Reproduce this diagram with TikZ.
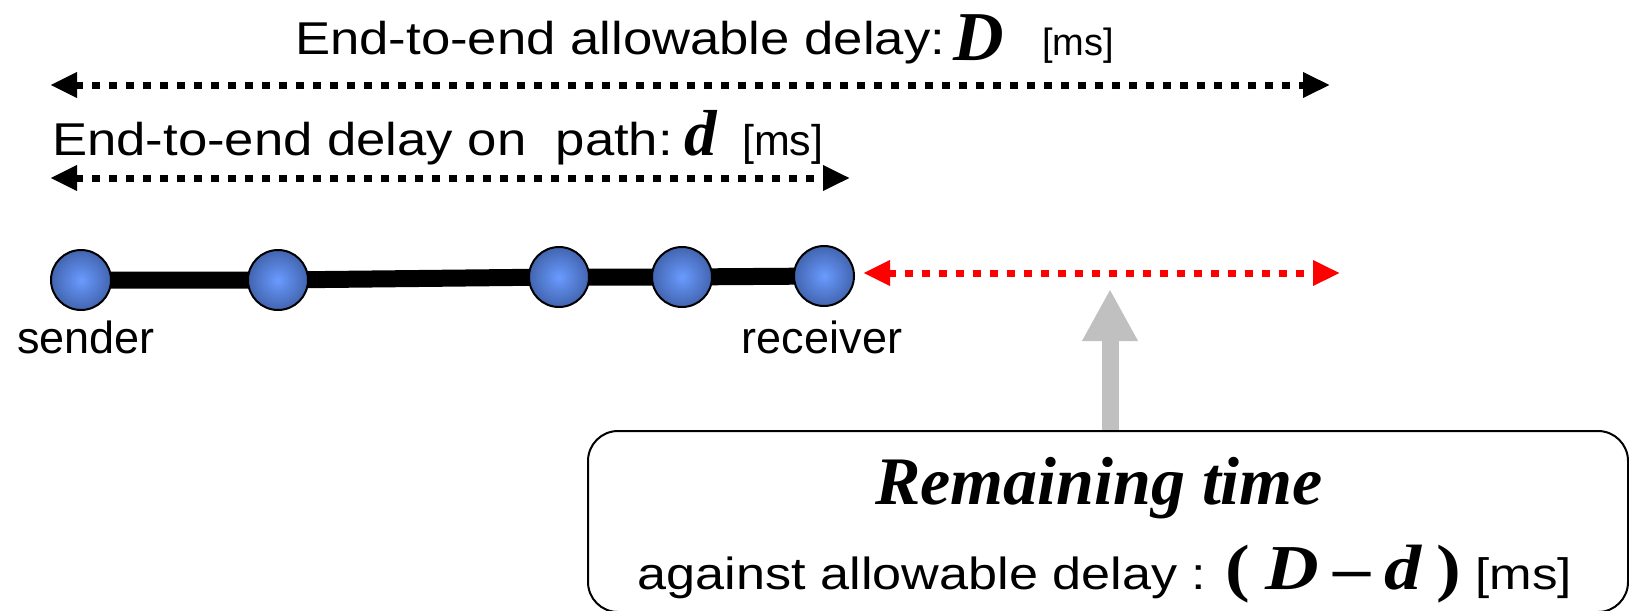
\documentclass[tikz,border=0pt]{standalone}
\usepackage{fontspec}
\setmainfont{Liberation Sans}
\newfontfamily\timesfont{Liberation Serif}
\usetikzlibrary{arrows.meta, backgrounds}

\definecolor{hopin}{HTML}{6A9BFF}
\definecolor{hopout}{HTML}{2A4480}
\definecolor{hintgray}{HTML}{C0C0C0}

% soft centred highlight on the path nodes
\pgfdeclareradialshading{hopshade}{\pgfpoint{0bp}{0bp}}{%
    color(0bp)=(hopin); color(40bp)=(hopout); color(50bp)=(hopout)}

% bold italic serif symbol at a given size
\newcommand{\tvar}[2]{{\fontsize{#1}{#1}\selectfont\timesfont\bfseries\itshape #2}}
\newcommand{\tsym}[2]{{\fontsize{#1}{#1}\selectfont\timesfont\bfseries #2}}
\newcommand{\unitms}[1]{{\fontsize{#1}{#1}\selectfont[ms]}}
\newcommand{\wide}[1]{\scalebox{1.145}[1]{#1}}

\begin{document}
\begin{tikzpicture}[
    x=1pt, y=-1pt,
    font=\fontsize{45}{54}\selectfont,
    txt/.style={inner sep=0pt, anchor=base},
    lbl/.style={inner sep=0pt, anchor=base west, font=\fontsize{46}{54}\selectfont},
    hop/.style={circle, draw=black, line width=2pt, minimum size=60pt, inner sep=0pt,
                shading=hopshade},
    link/.style={line width=17pt},
    span/.style={line width=7pt, dash pattern=on 8pt off 9pt,
                 {Triangle[length=27pt,width=24pt]}-{Triangle[length=27pt,width=24pt]}},
    slack/.style={span, red},
    hint/.style={hintgray, line width=17pt, -{Triangle[length=52pt,width=52pt]}},
    note/.style={draw, line width=2pt, rounded corners=30pt, anchor=north west,
                 minimum width=1040pt, minimum height=181pt},
]
    \useasboundingbox (0,0) rectangle (1629,610);

    % Row 1: allowable delay D
    \node[lbl] (Dlabel) at (295,55) {\wide{End-to-end allowable delay:}};
    \node[lbl] (Dsym) at (953,60) {\tvar{70}{D}};
    \node[lbl] (Dunit) at (1042,56) {\unitms{38}};
    \coordinate (Dl) at (50,85);
    \coordinate (Dr) at (1330,85);
    \draw[span] (Dl) -- (Dr);

    % Row 2: delay on path d
    \node[lbl] (dlabel) at (52,155) {\wide{End-to-end delay on\ \ path:}};
    \node[lbl] (dsym) at (684,155) {\tvar{65}{d}};
    \node[lbl] (dunit) at (742,155) {\unitms{43}};
    \coordinate (dl) at (50,178);
    \coordinate (dr) at (850,178);
    \draw[span] (dl) -- (dr);

    % Row 3: the path, sender to receiver
    \node[hop] (n1) at (81,280) {};
    \node[hop] (n2) at (278,280) {};
    \node[hop] (n3) at (559,277) {};
    \node[hop] (n4) at (682,277) {};
    \node[hop] (n5) at (824,276) {};
    \begin{scope}[on background layer]
        \draw[link] (n1.center) -- (n2.center) -- (n3.center) -- (n4.center) -- (n5.center);
    \end{scope}
    \node[txt] (snd) at (86,353) {sender};
    \node[txt] (rcv) at (822,353) {receiver};

    % slack up to the allowable delay
    \coordinate (sl) at (863,273);
    \coordinate (sr) at (1340,273);
    \draw[slack] (sl) -- (sr);

    % Row 4: remaining time box
    \node[note] (remain) at (587,430) {};
    \node[txt] (rtitle) at (1099,504) {\tvar{68}{Remaining time}};
    \node[txt] (rline) at (1105,589)
        {\scalebox{1.16}[1]{against allowable delay : \tsym{64}{(} \tvar{64}{D}
         \tsym{64}{\textendash} \tvar{64}{d} \tsym{64}{)} \unitms{44}}};

    \coordinate (hinttip) at (1110,289);
    \draw[hint] (remain.north -| hinttip) -- (hinttip);
\end{tikzpicture}
\end{document}
